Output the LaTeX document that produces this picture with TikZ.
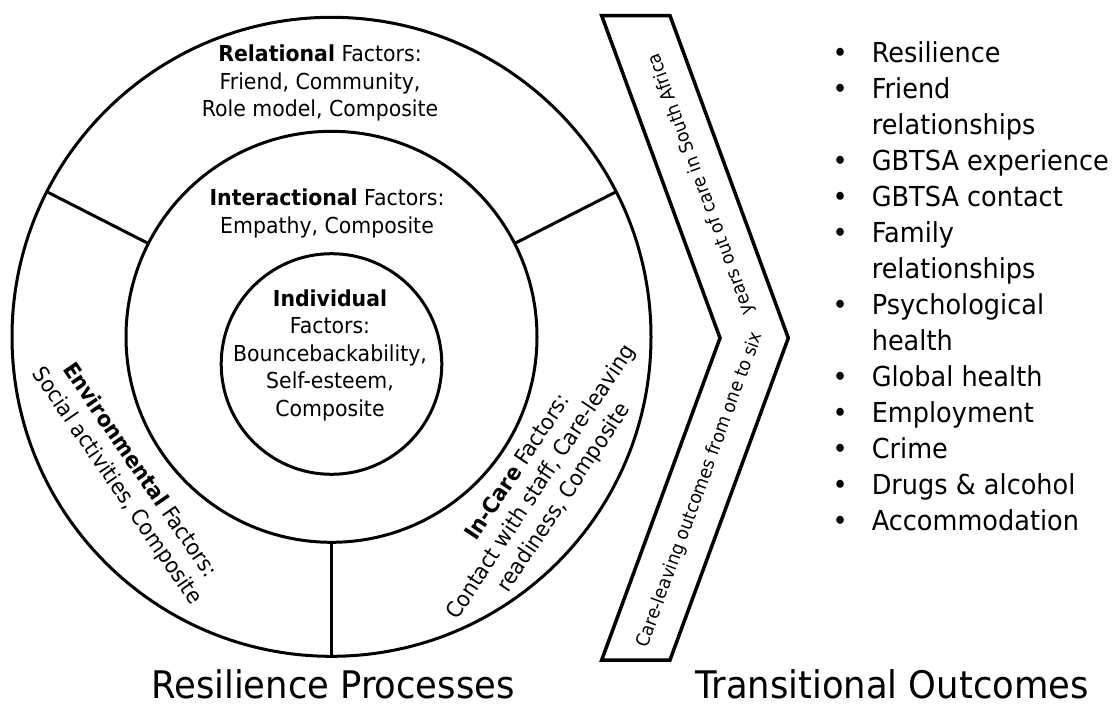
\documentclass[tikz,border=0pt]{standalone}
\usepackage{fontspec}
\setmainfont{DejaVu Sans}[FakeStretch=0.93]
\begin{document}
\begin{tikzpicture}[x=1pt,y=-1pt,
  ring/.style={circle,draw,line width=3pt,inner sep=0pt,outer sep=0pt},
  divider/.style={line width=3pt},
  factor/.style={align=center,inner sep=0pt,font=\fontsize{22}{27.5}\selectfont},
  arrowtext/.style={inner sep=0pt,font=\fontsize{18.5}{22}\selectfont},
  heading/.style={anchor=base,inner sep=0pt,font=\fontsize{38}{45}\selectfont}]
% canvas
\fill[white] (0,0) rectangle (1117,707);
\useasboundingbox (0,0) rectangle (1117,707);

% concentric rings of factors
\node[ring,minimum size=639pt] (outer) at (331.5,336.8) {};
\node[ring,minimum size=411pt] (middle) at (331.5,336.8) {};
\node[ring,minimum size=220.6pt] (inner) at (331.5,364) {};

% sectors of the outer ring
\draw[divider] (middle.153) -- (outer.153);
\draw[divider] (middle.27) -- (outer.27);
\draw[divider] (middle.270) -- (outer.270);

% factor labels
\node[factor] (relational) at (320,83.8)
  {\strut\textbf{Relational} Factors:\\Friend, Community,\\Role model, Composite\strut};
\node[factor] (interactional) at (327,214.2)
  {\strut\textbf{Interactional} Factors:\\Empathy, Composite\strut};
\node[factor] (individual) at (330,355.5)
  {\strut\textbf{Individual}\\Factors:\\Bouncebackability,\\Self-esteem,\\Composite\strut};
\node[factor,rotate=-55.5] (environmental) at (127.5,479)
  {\strut\textbf{Environmental} Factors:\\Social activities, Composite\strut};
\node[factor,rotate=56.5] (incare) at (542,483)
  {\strut\textbf{In-Care} Factors:\\Contact with staff, Care-leaving\\readiness, Composite\strut};

% chevron
\coordinate (tl) at (601.7,15.7);
\coordinate (tr) at (670,15.7);
\coordinate (tip) at (788.3,338);
\coordinate (br) at (670,660);
\coordinate (bl) at (601.7,660);
\coordinate (notch) at (720,338);
\draw[line width=3.5pt,line join=miter] (tl) -- (tr) -- (tip) -- (br) -- (bl) -- (notch) -- cycle;
\node[arrowtext,rotate=69.85] (spanlow) at (700,490) {Care-leaving outcomes from one to six};
\node[arrowtext,rotate=110.15] (spanhigh) at (701.5,184) {years out of care in South Africa};

% outcomes list
\node[anchor=north west,inner sep=0pt,font=\fontsize{27.5}{36}\selectfont] (outcomes) at (832.5,37.1)
{\begin{tabular}{@{}l@{\hspace{24pt}}l@{}}
\textbullet & Resilience\\
\textbullet & Friend\\
 & relationships\\
\textbullet & GBTSA experience\\
\textbullet & GBTSA contact\\
\textbullet & Family\\
 & relationships\\
\textbullet & Psychological\\
 & health\\
\textbullet & Global health\\
\textbullet & Employment\\
\textbullet & Crime\\
\textbullet & Drugs \& alcohol\\
\textbullet & Accommodation
\end{tabular}};

% headings
\node[heading] (processes) at (333,698.5) {Resilience Processes};
\node[heading] (transitions) at (892,698.5) {Transitional Outcomes};
\end{tikzpicture}
\end{document}
